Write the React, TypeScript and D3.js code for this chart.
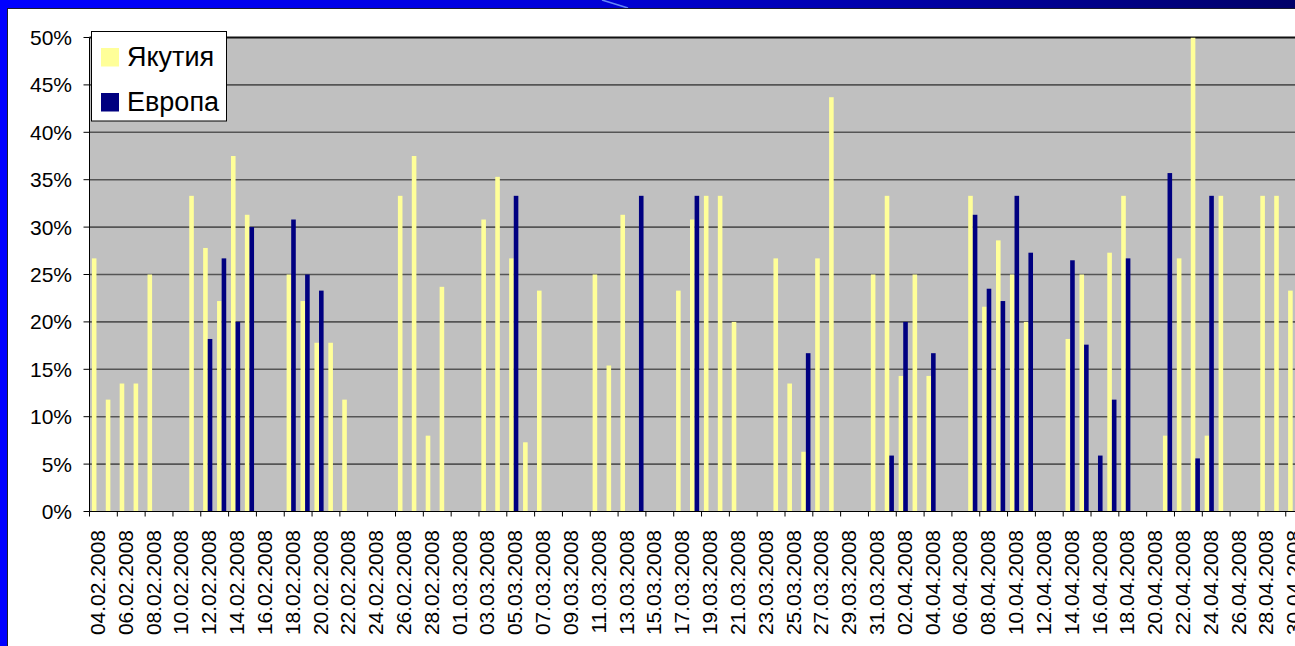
import React from 'react';
import * as d3 from 'd3';

// daily categories, 04.02.2008 .. 01.05.2008
const days = d3.timeDay.range(new Date(2008, 1, 4), new Date(2008, 4, 2));
const yTicks = [0, 5, 10, 15, 20, 25, 30, 35, 40, 45, 50];
const seriesNames = ['Якутия', 'Европа'];
const seriesColors = ['#FFFF99', '#000080'];

// share in %, one value per day (0 = no bar)
const yakutia = [
  26.7, 11.8, 13.5, 13.5, 25, 0, 0, 33.3, 27.8, 22.2,
  37.5, 31.3, 0, 0, 25, 22.2, 17.8, 17.8, 11.8, 0,
  0, 0, 33.3, 37.5, 8.0, 23.7, 0, 0, 30.8, 35.3,
  26.7, 7.3, 23.3, 0, 0, 0, 25, 15.4, 31.3, 0,
  0, 0, 23.3, 30.8, 33.3, 33.3, 20, 0, 0, 26.7,
  13.5, 6.3, 26.7, 43.7, 0, 0, 25, 33.3, 14.3, 25,
  14.3, 0, 0, 33.3, 21.6, 28.6, 25, 20, 0, 0,
  18.2, 25, 0, 27.3, 33.3, 0, 0, 8.0, 26.7, 50,
  8.0, 33.3, 0, 0, 33.3, 33.3, 23.3, 0,
];
const europe = [
  0, 0, 0, 0, 0, 0, 0, 0, 18.2, 26.7,
  20, 30, 0, 0, 30.8, 25, 23.3, 0, 0, 0,
  0, 0, 0, 0, 0, 0, 0, 0, 0, 0,
  33.3, 0, 0, 0, 0, 0, 0, 0, 0, 33.3,
  0, 0, 0, 33.3, 0, 0, 0, 0, 0, 0,
  0, 16.7, 0, 0, 0, 0, 0, 5.9, 20, 0,
  16.7, 0, 0, 31.3, 23.5, 22.2, 33.3, 27.3, 0, 0,
  26.5, 17.6, 5.9, 11.8, 26.7, 0, 0, 35.7, 0, 5.6,
  33.3, 0, 0, 0, 0, 0, 0, 0,
];

const W = 1295;
const H = 646;
const font = '"Liberation Sans", Arial, sans-serif';

export default function App() {
  const left = 89.5;
  const top = 37.5;
  const bottom = 511.5;
  const step = 13.91;
  const right = left + days.length * step;

  const x = d3.scaleBand<number>()
    .domain(days.map((d, i) => i))
    .range([left, right])
    .paddingInner(0.34)
    .paddingOuter(0.17);
  const xs = d3.scaleBand<number>()
    .domain([0, 1])
    .range([0, x.bandwidth()]);
  const y = d3.scaleLinear().domain([0, 50]).range([bottom, top]);
  const fmt = d3.timeFormat('%d.%m.%Y');
  const series = [yakutia, europe];

  return (
    <div style={{ position: 'absolute', left: 0, top: 0, width: W, height: H, overflow: 'hidden' }}>
      <svg width={W} height={H} style={{ display: 'block' }} fontFamily={font}>
        <defs>
          <linearGradient id="topBand" x1="0%" x2="100%" y1="0%" y2="0%">
            <stop offset="0%" stopColor="#0000FF" />
            <stop offset="45%" stopColor="#0000D8" />
            <stop offset="100%" stopColor="#000068" />
          </linearGradient>
          <clipPath id="plotClip">
            <rect x={left} y={top} width={right - left} height={bottom - top} />
          </clipPath>
        </defs>
        <rect width={W} height={H} fill="#ffffff" />
        <rect x={0} y={0} width={W} height={8} fill="url(#topBand)" />
        <line x1={602} y1={0} x2={628} y2={8} stroke="#7fa8ff" strokeWidth={1.5} opacity={0.8} />
        <rect x={0} y={0} width={7} height={H} fill="#0000FF" />
        <line x1={7} y1={8.5} x2={W} y2={8.5} stroke="#1a1a2e" strokeWidth={1} />
        <line x1={7.5} y1={8} x2={7.5} y2={H} stroke="#1a1a2e" strokeWidth={1} />

        {/* plot area */}
        <rect x={left} y={top} width={right - left} height={bottom - top} fill="#C0C0C0" />
        {yTicks.filter(t => t > 0 && t < 50).map(t => (
          <line key={t} x1={left} x2={right} y1={y(t)} y2={y(t)} stroke="#555555" strokeWidth={1.6} />
        ))}
        <line x1={left} x2={right} y1={top} y2={top} stroke="#111111" strokeWidth={2} />

        <g clipPath="url(#plotClip)">
          {series.map((vals, s) => vals.map((v, i) => v > 0 ? (
            <rect key={`${s}-${i}`}
              x={(x(i) as number) + (xs(s) as number)}
              y={y(v)}
              width={xs.bandwidth()}
              height={y(0) - y(v)}
              fill={seriesColors[s]} />
          ) : null))}
        </g>

        {/* y axis */}
        <line x1={left} x2={left} y1={top} y2={bottom} stroke="#000" strokeWidth={1} />
        {yTicks.map(t => (
          <g key={t}>
            <line x1={left - 6} x2={left} y1={y(t)} y2={y(t)} stroke="#000" strokeWidth={1} />
            <text x={72} y={y(t)} dy="0.36em" textAnchor="end" fontSize={21} fill="#000">{t}%</text>
          </g>
        ))}

        {/* x axis */}
        <line x1={left} x2={right} y1={bottom} y2={bottom} stroke="#000" strokeWidth={1} />
        {days.map((d, i) => i % 2 === 0 ? (
          <g key={i}>
            <line x1={left + i * x.step()} x2={left + i * x.step()} y1={bottom} y2={bottom + 5} stroke="#000" strokeWidth={1} />
            <text
              transform={`translate(${(x(i) as number) + x.bandwidth() / 2 + 1},530) rotate(-90)`}
              dy="0.36em" textAnchor="end" fontSize={21} fill="#000">{fmt(d)}</text>
          </g>
        ) : null)}

        {/* legend */}
        <rect x={91.5} y={31.5} width={135} height={89.5} fill="#ffffff" stroke="#000" strokeWidth={1} />
        {seriesNames.map((n, s) => (
          <g key={n} transform={`translate(101,${48 + s * 45})`}>
            <rect x={0} y={0} width={18} height={18.5} fill={seriesColors[s]} />
            <text x={26} y={18} fontSize={27} fill="#000">{n}</text>
          </g>
        ))}
      </svg>
    </div>
  );
}
